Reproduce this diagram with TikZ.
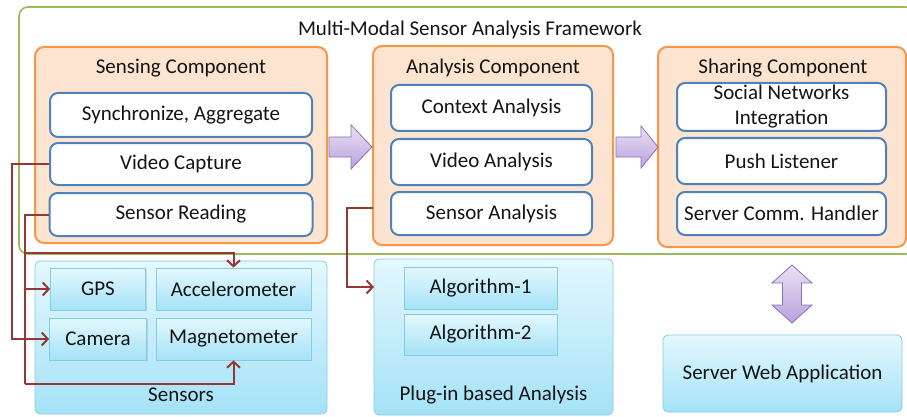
\documentclass[tikz,border=0pt]{standalone}
\usepackage{fontspec}
\setmainfont{Carlito}
\usetikzlibrary{arrows.meta,shadows}
\definecolor{grn}{HTML}{9BBB59}
\definecolor{org}{HTML}{F79646}
\definecolor{orgfill}{HTML}{FDE4D0}
\definecolor{blu}{HTML}{4F81BD}
\definecolor{cyantop}{HTML}{E4F8FE}
\definecolor{cyanbot}{HTML}{A4E2F7}
\definecolor{cyanline}{HTML}{86CCE4}
\definecolor{purtop}{HTML}{EAE0F6}
\definecolor{purbot}{HTML}{B8A2DC}
\definecolor{purline}{HTML}{8C72B4}
\definecolor{redl}{HTML}{953735}
\definecolor{txt}{HTML}{141414}
\tikzset{
  lbl/.style={font=\fontsize{21}{25}\selectfont, text=txt, inner sep=0pt},
  frame/.style={draw=grn, line width=1.6pt, rounded corners=9pt},
  comp/.style={draw=org, fill=orgfill, line width=2pt, rounded corners=9pt},
  wbox/.style={draw=blu, fill=white, line width=2pt, rounded corners=8pt, lbl},
  cbox/.style={draw=cyanline, line width=0.8pt, top color=cyantop, bottom color=cyanbot, rounded corners=5pt},
  sbox/.style={draw=cyanline, line width=0.8pt, top color=cyantop, bottom color=cyanbot, lbl,
     drop shadow={opacity=0.25, shadow xshift=1pt, shadow yshift=-1pt}},
  bigarrow/.style={draw=purline, line width=0.8pt, top color=purtop, bottom color=purbot},
  rline/.style={draw=redl, line width=2pt, -{Straight Barb[length=6pt,width=13pt]}},
  rseg/.style={draw=redl, line width=2pt},
}
\begin{document}
\begin{tikzpicture}[x=1pt,y=-1pt]
\useasboundingbox (0,0) rectangle (907,417);
\clip (0,0) rectangle (907,417);

% outer framework
\node[frame, minimum width=896, minimum height=247] (fw) at (467,130.5) {};
\node[lbl] (fwt) at (470,30) {Multi-Modal Sensor Analysis Framework};

% components
\node[comp, minimum width=292, minimum height=196] (sc) at (181,145) {};
\node[lbl] (sct) at (181,68) {Sensing Component};
\node[wbox, minimum width=262, minimum height=44] (sync) at (181,115) {Synchronize, Aggregate};
\node[wbox, minimum width=262, minimum height=42] (vcap) at (181,164) {Video Capture};
\node[wbox, minimum width=263, minimum height=43] (sread) at (181,214.5) {Sensor Reading};

\node[comp, minimum width=240, minimum height=199] (ac) at (493,145.5) {};
\node[lbl] (act) at (493,68) {Analysis Component};
\node[wbox, minimum width=201, minimum height=46] (ctx) at (491.5,108) {Context Analysis};
\node[wbox, minimum width=201, minimum height=46] (va) at (491.5,162) {Video Analysis};
\node[wbox, minimum width=201, minimum height=43] (sa) at (491.5,213.5) {Sensor Analysis};

\node[comp, minimum width=248, minimum height=200] (shc) at (782,147) {};
\node[lbl] (shct) at (783,68) {Sharing Component};
\node[wbox, minimum width=209, minimum height=48, align=center, font=\fontsize{21}{25}\selectfont] (sni) at (781.5,107) {Social Networks\\Integration};
\node[wbox, minimum width=209, minimum height=46] (push) at (781.5,161) {Push Listener};
\node[wbox, minimum width=209, minimum height=43] (sch) at (781.5,213.5) {Server Comm. Handler};

% lower boxes
\node[cbox, minimum width=292, minimum height=153] (sens) at (181,337.5) {};
\node[lbl] (senst) at (181,395) {Sensors};
\node[sbox, minimum width=95, minimum height=42] (gps) at (98,289) {GPS};
\node[sbox, minimum width=155, minimum height=42] (acc) at (233.5,289) {Accelerometer};
\node[sbox, minimum width=97, minimum height=42] (cam) at (98,339) {Camera};
\node[sbox, minimum width=155, minimum height=42] (mag) at (233.5,339) {Magnetometer};

\node[cbox, minimum width=239, minimum height=156] (plug) at (493.5,337) {};
\node[lbl] (plugt) at (493.5,395) {Plug-in based Analysis};
\node[sbox, minimum width=153, minimum height=42] (alg1) at (480.5,288) {Algorithm-1};
\node[sbox, minimum width=153, minimum height=41] (alg2) at (480.5,334.5) {Algorithm-2};

\node[cbox, lbl, minimum width=239, minimum height=77] (swa) at (782.5,373.5) {Server Web Application};

% big purple arrows
\draw[bigarrow] (sc.east) ++(1,-8) -- ++(22,0) -- ++(0,-12) -- ++(21,22) -- ++(-21,22) -- ++(0,-12) -- ++(-22,0) -- cycle;
\draw[bigarrow] (ac.east) ++(2,-8.5) -- ++(25,0) -- ++(0,-11) -- ++(17,21) -- ++(-17,21) -- ++(0,-11) -- ++(-25,0) -- cycle;
\draw[bigarrow] (792,265) -- (812,283) -- (801.5,283) -- (801.5,305) -- (812,305) -- (792,323)
   -- (772,305) -- (782.5,305) -- (782.5,283) -- (772,283) -- cycle;

% red connectors
\coordinate (j1) at (12,164);
\draw[rline] (vcap.west) -- (j1) |- (cam.west);
\coordinate (j2) at (25,214.5);
\coordinate (j3) at (25,253);
\coordinate (j4) at (25,384);
\draw[rseg] (sread.west) -- (j2) -- (j4);
\draw[rline] (j4) -| (mag.south);
\draw[rline] (j3) -| (acc.north);
\draw[rline] (j3) |- (gps.west);
\coordinate (a0) at (373,208);
\coordinate (a1) at (347,208);
\coordinate (pin) at (374,287);
\draw[rline] (a0) -- (a1) |- (pin);
\end{tikzpicture}
\end{document}
